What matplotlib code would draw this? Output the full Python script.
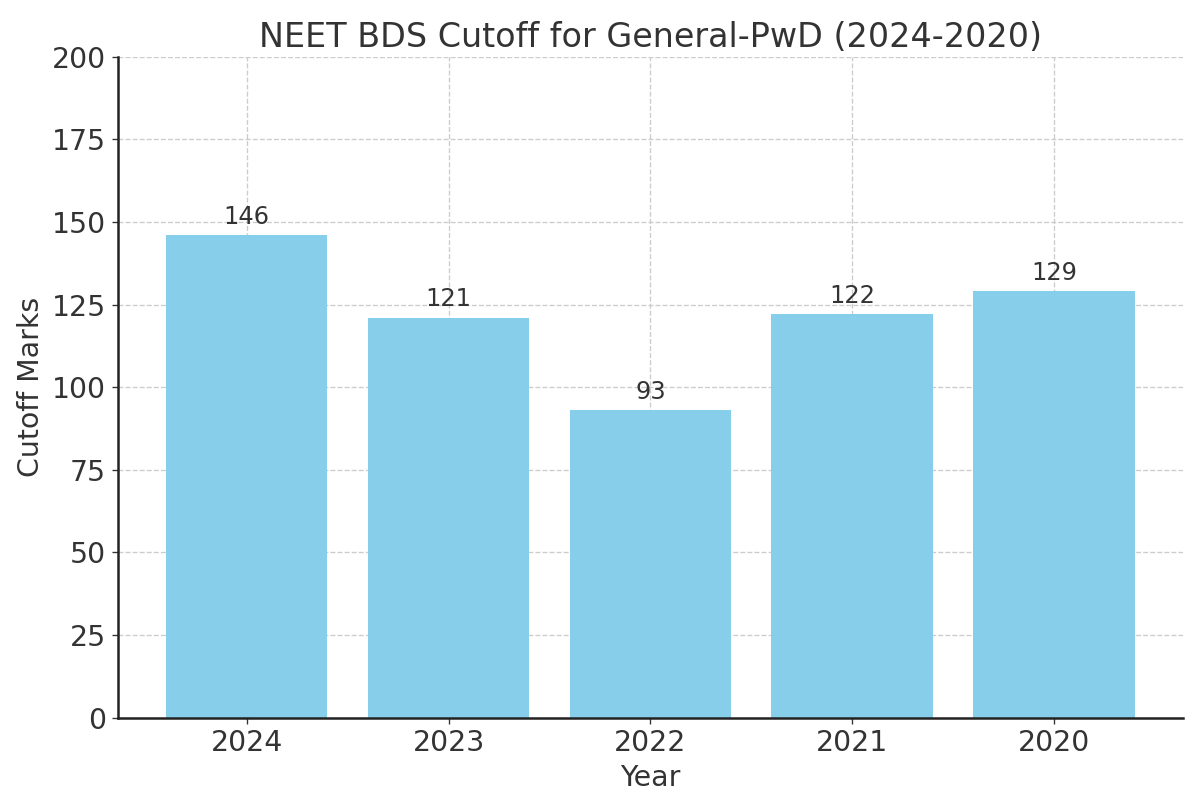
import matplotlib
matplotlib.use("Agg")
import matplotlib.pyplot as plt

# data
years = ["2024", "2023", "2022", "2021", "2020"]
cutoffs = [146, 121, 93, 122, 129]

fig, ax = plt.subplots(figsize=(10, 6.75), dpi=120)

bars = ax.bar(years, cutoffs, color="skyblue", width=0.8, zorder=2)

# value labels on top of the bars
for b, v in zip(bars, cutoffs):
    ax.text(b.get_x() + b.get_width() / 2, v + 2, str(v),
            ha="center", va="bottom", fontsize=14.5, color="#333333")

ax.set_ylim(0, 200)
ax.set_yticks(range(0, 201, 25))
ax.set_title("NEET BDS Cutoff for General-PwD (2024-2020)", fontsize=20, color="#333333")
ax.set_xlabel("Year", fontsize=17, color="#333333")
ax.set_ylabel("Cutoff Marks", fontsize=17, color="#333333")
ax.tick_params(labelsize=17, colors="#333333")
ax.grid(True, linestyle="--", color="#cccccc", linewidth=0.8, zorder=0)
ax.spines["top"].set_visible(False)
ax.spines["right"].set_visible(False)
for s in ("left", "bottom"):
    ax.spines[s].set_linewidth(1.5)
    ax.spines[s].set_color("#222222")

fig.subplots_adjust(left=0.098, right=0.986, top=0.93, bottom=0.114)
fig.savefig("out.png")
